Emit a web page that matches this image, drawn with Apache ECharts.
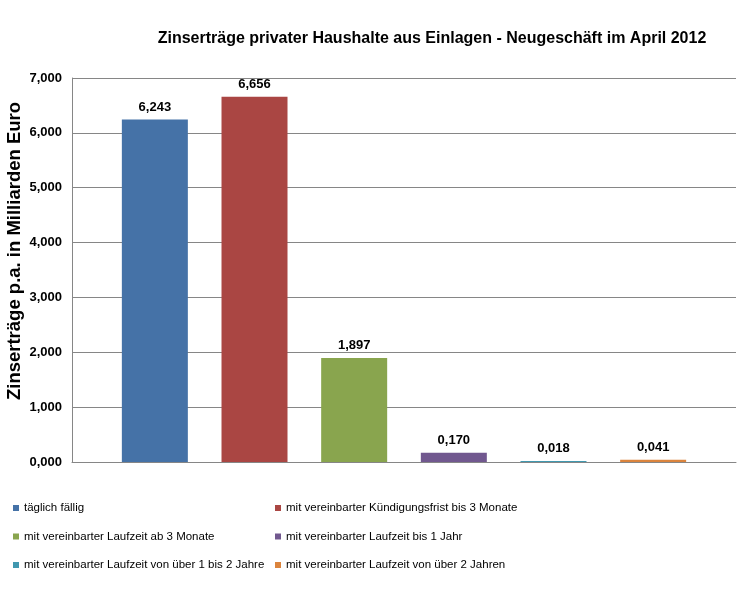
<!DOCTYPE html>
<html>
<head>
<meta charset="utf-8">
<script src="https://cdn.jsdelivr.net/npm/echarts@6/dist/echarts.min.js"></script>
<style>html,body{margin:0;padding:0;background:#fff;}#c{width:740px;height:600px;}</style>
</head>
<body>
<div id="c"></div>
<script>
var titleText = 'Zinserträge privater Haushalte aus Einlagen - Neugeschäft im April 2012';
var yAxisName = 'Zinserträge p.a. in Milliarden Euro';
var categories = ['April 2012'];
var seriesNames = [
  'täglich fällig',
  'mit vereinbarter Kündigungsfrist bis 3 Monate',
  'mit vereinbarter Laufzeit ab 3 Monate',
  'mit vereinbarter Laufzeit bis 1 Jahr',
  'mit vereinbarter Laufzeit von über 1 bis 2 Jahre',
  'mit vereinbarter Laufzeit von über 2 Jahren'
];
var seriesValues = [6.243, 6.656, 1.897, 0.170, 0.018, 0.041];
var yMin = 0, yMax = 7, yInterval = 1;

var colors = ['#4572A7', '#AA4643', '#89A54E', '#71588F', '#4198AF', '#DB843D'];
var fmt = function (v) { return Number(v).toFixed(3).replace('.', ','); };
var FONT = '"Liberation Sans", Arial, sans-serif';

var series = seriesNames.map(function (n, i) {
  return {
    name: n,
    type: 'bar',
    data: [seriesValues[i]],
    barWidth: 66,
    barGap: '51%',
    itemStyle: { color: colors[i] },
    label: {
      show: true, position: 'top', distance: 6,
      formatter: function (p) { return fmt(p.value); },
      fontFamily: FONT, fontWeight: 'bold', fontSize: 13, color: '#000'
    }
  };
});

var legendCommon = {
  orient: 'vertical', top: 502, itemGap: 16.5, padding: 0,
  itemWidth: 6, itemHeight: 6, icon: 'rect',
  textStyle: { fontFamily: FONT, fontSize: 11.5, color: '#000' }
};

var chart = echarts.init(document.getElementById('c'), null, { renderer: 'canvas' });
chart.setOption({
  animation: false,
  color: colors,
  title: {
    text: titleText, left: 427, top: 26, textAlign: 'center',
    textStyle: { fontFamily: FONT, fontWeight: 'bold', fontSize: 16, color: '#000' }
  },
  grid: { left: 72, right: 4, top: 78, bottom: 138, containLabel: false },
  xAxis: {
    type: 'category', data: categories,
    axisLine: { lineStyle: { color: '#868686', width: 1 } },
    axisTick: { show: false }, axisLabel: { show: false }
  },
  yAxis: {
    type: 'value', min: yMin, max: yMax, interval: yInterval,
    axisLine: { show: true, lineStyle: { color: '#868686', width: 1 } },
    axisTick: { show: false },
    splitLine: { lineStyle: { color: '#868686', width: 1 } },
    axisLabel: {
      formatter: fmt, margin: 10,
      fontFamily: FONT, fontWeight: 'bold', fontSize: 13, color: '#000'
    }
  },
  legend: [
    Object.assign({ data: [seriesNames[0], seriesNames[2], seriesNames[4]], left: 13 }, legendCommon),
    Object.assign({ data: [seriesNames[1], seriesNames[3], seriesNames[5]], left: 275 }, legendCommon)
  ],
  graphic: [{
    type: 'text', x: 15, y: 251, rotation: Math.PI / 2,
    style: {
      text: yAxisName, textAlign: 'center', textVerticalAlign: 'middle',
      font: 'bold 18.5px "Liberation Sans", Arial, sans-serif', fill: '#000'
    }
  }],
  series: series
});
</script>
</body>
</html>
